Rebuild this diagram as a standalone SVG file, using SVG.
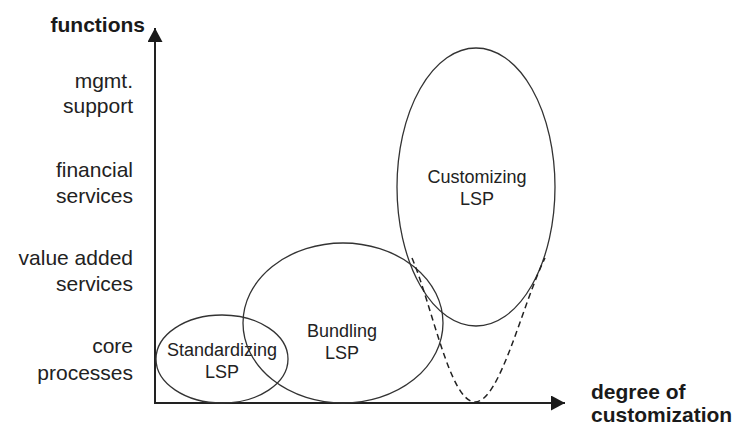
<svg xmlns="http://www.w3.org/2000/svg" width="740" height="426" viewBox="0 0 740 426">
<style>
.lbl{font-family:"Liberation Sans",Arial,sans-serif;font-size:21px;fill:#222;text-anchor:end}
.ax{font-family:"Liberation Sans",Arial,sans-serif;font-size:21px;font-weight:bold;fill:#1a1a1a}
.nt{font-family:"Liberation Sans",Arial,sans-serif;font-size:18px;fill:#222;text-anchor:middle}
.el{fill:none;stroke:#333;stroke-width:1.3}
.axis{stroke:#222;stroke-width:2;fill:none}
</style>
<defs>
<marker id="ah" markerUnits="userSpaceOnUse" markerWidth="16" markerHeight="16" refX="14" refY="7.5" orient="auto">
<path d="M0,0 L14,7.5 L0,15 Z" fill="#1a1a1a"/>
</marker>
</defs>
<rect width="740" height="426" fill="#fff"/>
<g id="axes">
<path class="axis" d="M155 404 L155 28" marker-end="url(#ah)"/>
<path class="axis" d="M154 403 L565 403" marker-end="url(#ah)"/>
<text class="ax" x="145" y="32" text-anchor="end">functions</text>
<text class="ax" x="591" y="399">degree of</text>
<text class="ax" x="591" y="422">customization</text>
</g>
<g id="y-labels">
<text class="lbl" x="133" y="88">mgmt.</text>
<text class="lbl" x="133" y="113">support</text>
<text class="lbl" x="133" y="177">financial</text>
<text class="lbl" x="133" y="203">services</text>
<text class="lbl" x="133" y="265">value added</text>
<text class="lbl" x="133" y="291">services</text>
<text class="lbl" x="133" y="353">core</text>
<text class="lbl" x="133" y="380">processes</text>
</g>
<g id="standardizing">
<ellipse class="el" cx="222" cy="359" rx="66" ry="44"/>
<text class="nt" x="222" y="356">Standardizing</text>
<text class="nt" x="222" y="378">LSP</text>
</g>
<g id="bundling">
<ellipse class="el" cx="343" cy="323" rx="100" ry="80"/>
<text class="nt" x="342" y="337">Bundling</text>
<text class="nt" x="342" y="359">LSP</text>
</g>
<g id="customizing">
<ellipse class="el" cx="476" cy="187" rx="79" ry="139"/>
<text class="nt" x="477" y="183">Customizing</text>
<text class="nt" x="477" y="205">LSP</text>
</g>
<g id="connectors">
<path d="M412 258 C432 305, 450 402, 475 402 C500 402, 522 305, 545 258" fill="none" stroke="#222" stroke-width="1.5" stroke-dasharray="6,4"/>
</g>
</svg>
